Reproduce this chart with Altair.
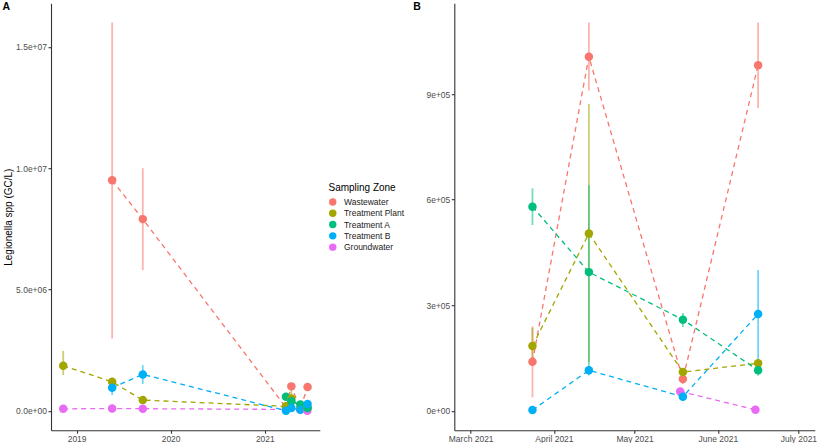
import altair as alt
import pandas as pd

zones = ["Wastewater", "Treatment Plant", "Treatment A", "Treatment B", "Groundwater"]
colors = ["#F8766D", "#A3A500", "#00BF7D", "#00B0F6", "#E76BF3"]

# Wastewater
ww_dates = ["2019-05-19", "2019-09-15", "2021-03-24", "2021-04-14", "2021-05-19", "2021-06-16"]
ww_vals = [9.5e6, 7.9e6, 1.39e5, 1.006e6, 0.9e5, 9.82e5]
ww_lo = [2.98e6, 5.8e6, 0.38e5, 0.91e6, 0.76e5, 8.6e5]
ww_hi = [16.0e6, 10.0e6, 2.40e5, 1.103e6, 1.04e5, 1.103e6]

# Treatment Plant
tp_dates = ["2018-11-10", "2019-05-19", "2019-09-15", "2021-03-24", "2021-04-14", "2021-05-19", "2021-06-16"]
tp_vals = [1.855e6, 1.195e6, 0.44e6, 1.84e5, 5.04e5, 1.10e5, 1.35e5]
tp_lo = [1.47e6, 1.12e6, 0.36e6, 1.41e5, 1.39e5, 1.0e5, 1.26e5]
tp_hi = [2.47e6, 1.27e6, 0.52e6, 2.36e5, 8.72e5, 1.2e5, 1.44e5]

# Treatment A
ta_dates = ["2021-03-24", "2021-04-14", "2021-05-19", "2021-06-16"]
ta_vals = [5.80e5, 3.94e5, 2.59e5, 1.15e5]
ta_lo = [5.28e5, 1.23e5, 2.38e5, 1.0e5]
ta_hi = [6.32e5, 6.41e5, 2.78e5, 1.32e5]

# Treatment B
tb_dates = ["2019-05-19", "2019-09-15", "2021-03-24", "2021-04-14", "2021-05-19", "2021-06-16"]
tb_vals = [0.95e6, 1.5e6, 2.0e3, 1.15e5, 4.0e4, 2.75e5]
tb_lo = [0.65e6, 1.1e6, 1.0e3, 1.0e5, 3.0e4, 1.27e5]
tb_hi = [1.27e6, 1.88e6, 3.0e3, 1.27e5, 5.0e4, 4.0e5]

# Groundwater
gw_dates = ["2018-11-10", "2019-05-19", "2019-09-15", "2021-05-18", "2021-06-15"]
gw_vals = [0.8e5, 0.9e5, 0.85e5, 5.5e4, 3.0e3]
gw_lo = [0.7e5, 0.8e5, 0.75e5, 5.0e4, 2.0e3]
gw_hi = [0.9e5, 1.0e5, 0.95e5, 6.0e4, 4.0e3]

series = [
    ("Wastewater", ww_dates, ww_vals, ww_lo, ww_hi),
    ("Treatment Plant", tp_dates, tp_vals, tp_lo, tp_hi),
    ("Treatment A", ta_dates, ta_vals, ta_lo, ta_hi),
    ("Treatment B", tb_dates, tb_vals, tb_lo, tb_hi),
    ("Groundwater", gw_dates, gw_vals, gw_lo, gw_hi),
]
rows = []
for z, d, v, lo, hi in series:
    for i in range(len(d)):
        rows.append({"zone": z, "zorder": zones.index(z), "date": d[i], "value": v[i], "lo": lo[i], "hi": hi[i]})
df = pd.DataFrame(rows).sort_values(["date", "zorder"]).reset_index(drop=True)
df_b = df[df["date"] >= "2021-01-01"].reset_index(drop=True)


def ms(s, shift_days=0.0):
    return int((pd.Timestamp(s, tz="UTC") + pd.Timedelta(days=shift_days)).value // 10**6)


FONT = "Liberation Sans"

H = 427


def panel(data, xdom, xvals, xfmt, ydom, yvals, yfmt, ytitle, width, label, legend):
    x = alt.X("date:T",
              scale=alt.Scale(type="utc", domain=xdom, nice=False),
              axis=alt.Axis(values=xvals, labelExpr="utcFormat(datum.value, '%s')" % xfmt,
                            title=None, labelFlush=False))
    yaxis_kwargs = dict(values=yvals,
                        labelExpr="replace(format(datum.value, '%s'), 'e+', 'e+0')" % yfmt,
                        labelFlush=False)
    if ytitle:
        yaxis_kwargs.update(title=ytitle, titleX=-43, titleY=H / 2, titleBaseline="middle",
                            titleAngle=-90, titleAlign="center")
    else:
        yaxis_kwargs.update(title=None)
    ysc = alt.Scale(domain=ydom, nice=False, zero=False)
    stroke_enc = alt.Stroke("zone:N", scale=alt.Scale(domain=zones, range=colors), legend=legend)
    base = alt.Chart(data)
    rules = base.mark_rule(strokeWidth=1.8, opacity=0.55).encode(
        x=x,
        y=alt.Y("lo:Q", scale=ysc, axis=alt.Axis(**yaxis_kwargs)),
        y2="hi:Q",
        stroke=stroke_enc,
    )
    lines = base.mark_line(strokeDash=[5, 4], strokeWidth=1.3).encode(
        x=x,
        y=alt.Y("value:Q", scale=ysc, axis=alt.Axis(**yaxis_kwargs)),
        stroke=stroke_enc,
        detail="zone:N",
    )
    pts = base.mark_circle(size=72, opacity=1).encode(
        x=x,
        y=alt.Y("value:Q", scale=ysc, axis=alt.Axis(**yaxis_kwargs)),
        color=alt.Color("zone:N", scale=alt.Scale(domain=zones, range=colors), legend=legend),
    )
    txt = alt.Chart(pd.DataFrame({"t": [label]})).mark_text(
        align="left", baseline="top", fontWeight="bold", fontSize=10.5, font=FONT, color="black"
    ).encode(text="t:N", x=alt.value(-48.5 if label == "A" else -41), y=alt.value(-0.8))
    return alt.layer(rules, lines, pts, txt).properties(width=width, height=H)


legend_a = alt.Legend(title="Sampling Zone", orient="none", legendX=277.5, legendY=179.5,
                      symbolType="circle", symbolSize=55, symbolStrokeWidth=0, symbolOpacity=1,
                      titleFontSize=10, titleFontWeight="normal", titleColor="black", titleFont=FONT,
                      titlePadding=5, labelFontSize=8.5, labelFont=FONT, labelColor="#1a1a1a",
                      labelOffset=7, rowPadding=2.3)

panel_a = panel(df,
                [ms("2018-11-10", -47.45), ms("2021-06-16", 47.45)],
                [ms("2019-01-01"), ms("2020-01-01"), ms("2021-01-01")], "%Y",
                [-0.8e6, 16.8e6], [0, 5e6, 1e7, 1.5e7], ".1e",
                "Legionella spp (GC/L)", 268.8, "A", legend_a)

panel_b = panel(df_b,
                [ms("2021-03-01", -6.1), ms("2021-07-01", 6.1)],
                [ms("2021-03-01"), ms("2021-04-01"), ms("2021-05-01"), ms("2021-06-01"), ms("2021-07-01")],
                "%B %Y",
                [-0.05515e6, 1.15815e6], [0, 3e5, 6e5, 9e5], ".0e",
                None, 360.5, "B", None)

chart = alt.hconcat(panel_a, panel_b, spacing=134.3, bounds="flush").resolve_scale(
    color="independent", stroke="independent"
).resolve_legend(
    color="independent", stroke="independent"
).properties(
    padding={"left": 2, "top": 2.2, "right": 0, "bottom": 0}
).configure_view(stroke=None).configure_axis(
    grid=False,
    domainColor="#333333", domainWidth=1.1,
    tickColor="#333333", tickWidth=1.1, tickSize=3,
    labelColor="#4D4D4D", labelFontSize=8.5, labelFont=FONT, labelPadding=1.5,
    titleFont=FONT, titleFontSize=10, titleFontWeight="normal", titleColor="black",
)

chart.save("out.html", embed_options={"renderer": "svg", "actions": False})
